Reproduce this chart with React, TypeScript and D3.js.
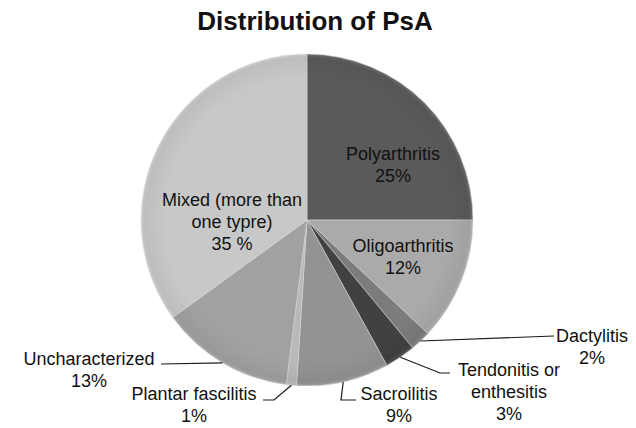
import React from 'react';
import * as d3 from 'd3';

const categories = [
  'Polyarthritis',
  'Oligoarthritis',
  'Dactylitis',
  'Tendonitis or enthesitis',
  'Sacroilitis',
  'Plantar fascilitis',
  'Uncharacterized',
  'Mixed (more than one typre)',
];
const values = [25, 12, 2, 3, 9, 1, 13, 35];
const labelLines = [
  ['Polyarthritis', '25%'],
  ['Oligoarthritis', '12%'],
  ['Dactylitis', '2%'],
  ['Tendonitis or', 'enthesitis', '3%'],
  ['Sacroilitis', '9%'],
  ['Plantar fascilitis', '1%'],
  ['Uncharacterized', '13%'],
  ['Mixed (more than', 'one typre)', '35 %'],
];
const colors = ['#5a5a5a', '#aaaaaa', '#7c7c7c', '#414141', '#939393', '#b9b9b9', '#a1a1a1', '#c8c8c8'];

// layout for labels (center x, first baseline) and leader line bends
const labelPos: [number, number][] = [
  [393, 160], [403, 252], [592, 342], [509, 376], [399, 400], [194, 400], [89, 365], [232, 206],
];
const leaders: ([number, number][] | null)[] = [
  null,
  null,
  [[554, 336]],
  [[440, 373], [450, 373]],
  [[341, 400], [356, 400]],
  [[274, 400], [263, 400]],
  [[161, 364]],
  null,
];

const cx = 307;
const cy = 220;
const radius = 166;

export default function App() {
  const data = categories.map((c, i) => ({ name: c, value: values[i], idx: i }));
  const pie = d3.pie<any>().value(d => d.value).sort(null);
  const arcs = pie(data);
  const arc = d3.arc<any>().innerRadius(0).outerRadius(radius);
  const lineGen = d3.line();

  return (
    <svg width={636} height={428} style={{ position: 'absolute', left: 0, top: 0 }}
      fontFamily="'Liberation Sans', Arial, sans-serif">
      <defs>
        <radialGradient id="shade" cx="0.5" cy="0.5" r="0.5">
          <stop offset="0.85" stopColor="#000" stopOpacity={0} />
          <stop offset="0.97" stopColor="#000" stopOpacity={0.05} />
          <stop offset="1" stopColor="#fff" stopOpacity={0.15} />
        </radialGradient>
      </defs>
      <rect width={636} height={428} fill="#fff" />
      <text x={315} y={30} textAnchor="middle" fontSize={26} fontWeight="bold" fill="#111">Distribution of PsA</text>
      <g transform={`translate(${cx},${cy})`}>
        {arcs.map((a, i) => (
          <path key={i} d={arc(a) || ''} fill={colors[i]} stroke="#d9d9d9" strokeWidth={0.5} />
        ))}
        <circle r={radius} fill="url(#shade)" />
      </g>
      {arcs.map((a, i) => {
        const pts = leaders[i];
        if (!pts) return null;
        const mid = (a.startAngle + a.endAngle) / 2;
        const start: [number, number] = [cx + radius * Math.sin(mid), cy - radius * Math.cos(mid)];
        return (
          <path key={'l' + i} d={lineGen([start, ...pts]) || ''} fill="none" stroke="#1a1a1a" strokeWidth={1.2} />
        );
      })}
      {labelLines.map((lines, i) => (
        <text key={'t' + i} x={labelPos[i][0]} y={labelPos[i][1]} textAnchor="middle" fontSize={18} fill="#111">
          {lines.map((ln, j) => (
            <tspan key={j} x={labelPos[i][0]} dy={j === 0 ? 0 : 22}>{ln}</tspan>
          ))}
        </text>
      ))}
    </svg>
  );
}
